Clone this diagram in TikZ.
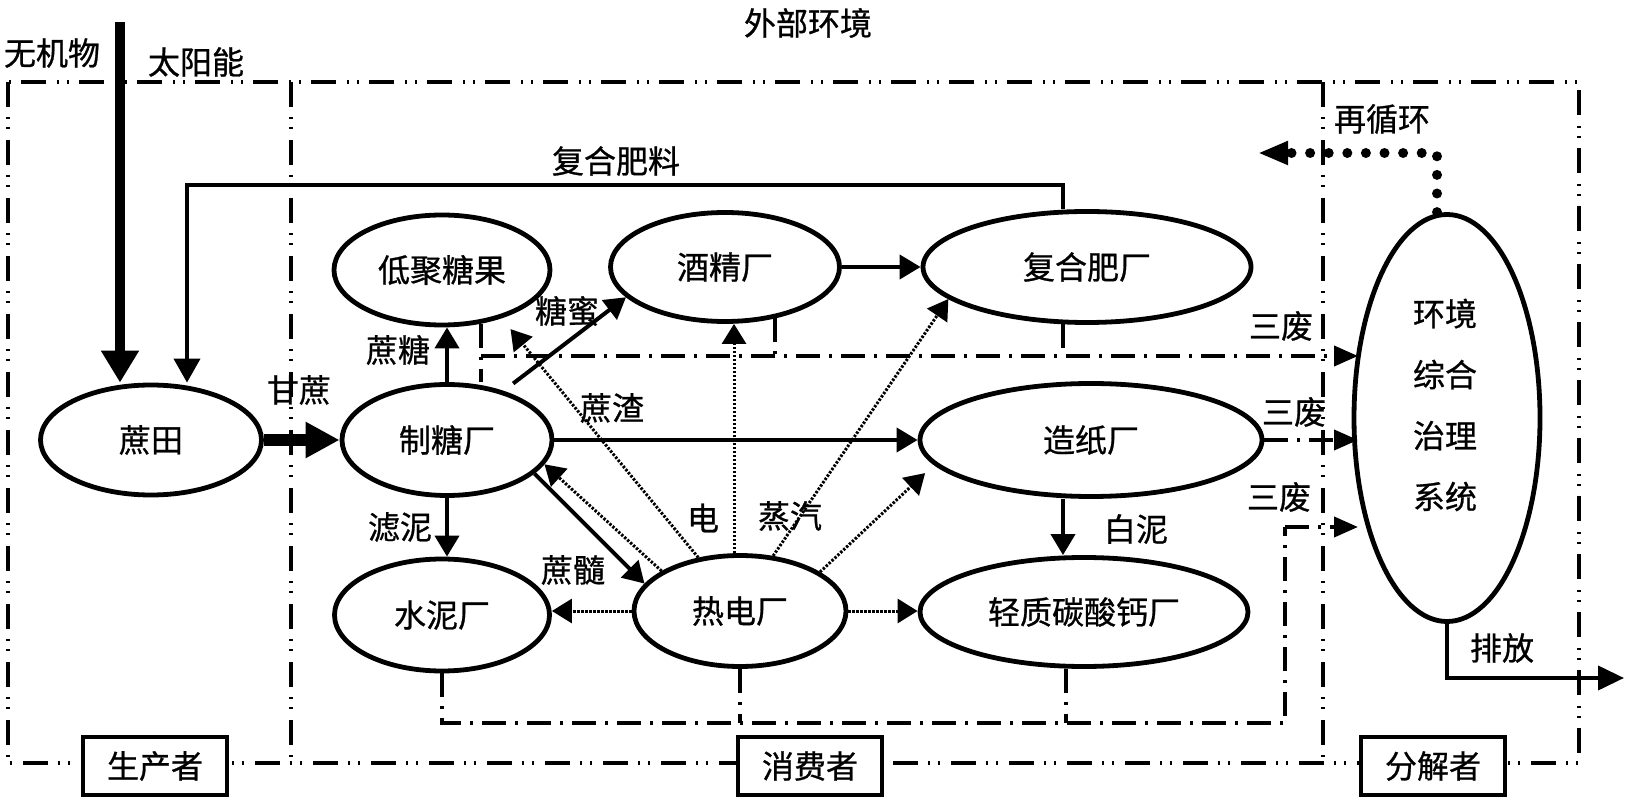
\documentclass[tikz,border=0pt]{standalone}
\usepackage{fontspec}
\setmainfont{Noto Sans CJK SC}[FakeBold=0.8]
\usetikzlibrary{arrows.meta,shapes.geometric}
\tikzset{
  plant/.style={ellipse,draw,line width=2.4pt,inner sep=0pt},
  txt/.style={inner sep=0pt},
  region/.style={line width=2.2pt,dash pattern=on 12.5pt off 5pt on 1pt off 4pt on 1pt off 5.5pt},
  role/.style={draw,fill=white,line width=2pt,minimum width=72pt,minimum height=29pt,inner sep=0pt},
  flow/.style={line width=2pt,-{Triangle[length=10.5pt,width=12pt]}},
  heat/.style={line width=1.5pt,dash pattern=on 1.2pt off 0.8pt,-{Triangle[length=10pt,width=12pt]}},
  waste/.style={line width=2pt,dash pattern=on 12pt off 4.5pt on 1.5pt off 4.5pt},
  wtip/.style={-{Triangle[length=12pt,width=10pt]}},
  recyc/.style={line width=5pt,line cap=round,dash pattern=on 0pt off 9.3pt,-{Triangle[length=15pt,width=11pt]}}
}
\begin{document}
\begin{tikzpicture}[x=0.5pt,y=-0.5pt,font=\fontsize{16pt}{19pt}\selectfont]
\useasboundingbox (0,0) rectangle (1626,801);
\draw[region] (8,82) rectangle (1579,763);
\draw[region] (291,82) -- (291,763);
\draw[region] (1323,82) -- (1323,763);
\node[role] (prod) at (155,766) {生产者};
\node[role] (cons) at (810,766) {消费者};
\node[role] (deco) at (1433,766) {分解者};
\node[txt] (outside) at (808,23) {外部环境};
\node[plant,minimum width=110.5pt,minimum height=55pt] (zt) at (151,440) {蔗田};
\node[plant,minimum width=105pt,minimum height=55.5pt] (zth) at (447,440) {制糖厂};
\node[plant,minimum width=108pt,minimum height=55pt] (dj) at (442,270) {低聚糖果};
\node[plant,minimum width=114.5pt,minimum height=54.5pt] (jj) at (725,267) {酒精厂};
\node[plant,minimum width=164pt,minimum height=55.5pt] (fhf) at (1087,267) {复合肥厂};
\node[plant,minimum width=171pt,minimum height=56.5pt] (zz) at (1091,440) {造纸厂};
\node[plant,minimum width=164pt,minimum height=54.5pt] (qz) at (1084,612) {轻质碳酸钙厂};
\node[plant,minimum width=107.5pt,minimum height=56pt] (sn) at (442,615) {水泥厂};
\node[plant,minimum width=106pt,minimum height=55.5pt] (rd) at (740,611) {热电厂};
\node[plant,minimum width=93pt,minimum height=203.5pt] (env) at (1447,418) {};
\node[txt,align=center,font=\fontsize{16pt}{30.5pt}\selectfont] (envtxt) at (1445,405) {环境\\综合\\治理\\系统};
\coordinate (sun) at (120,22);
\coordinate (fbend) at (187,185);
\coordinate (rc) at (1258,153);
\coordinate (out) at (1624,678);
\coordinate (wup) at (1358,356);
\coordinate (wlow) at (1358,527);
\coordinate (wcnr) at (1285,723);
\draw[line width=5pt,-{Triangle[length=16pt,width=18pt]}] (sun) -- (sun |- zt.north);
\node[txt] (inorg) at (52,53) {无机物};
\node[txt] (solar) at (196,62) {太阳能};
\draw[flow,-{Triangle[length=12pt,width=13pt]}] ([xshift=-12pt]fhf.north) |- (fbend) -- (fbend |- zt.north);
\node[txt] (lfert) at (616,161) {复合肥料};
\draw[line width=6pt,-{Triangle[length=17pt,width=17pt]}] (zt.east) -- (zth.west);
\node[txt] (lcane) at (299,390) {甘蔗};
\draw[flow] (zth.north) -- (zth.north |- dj.south);
\node[txt] (lsugar) at (398,350) {蔗糖};
\draw[flow,shorten <=6pt] (zth.41) -- (jj.197);
\node[txt] (lmol) at (567,311) {糖蜜};
\draw[flow] (zth.east) -- (zth.east -| zz.west);
\node[txt] (lbag) at (612,408) {蔗渣};
\draw[flow] (zth.south) -- (zth.south |- sn.north);
\node[txt] (lmud) at (400,527) {滤泥};
\draw[flow] (zth.-21) -- (rd.164);
\node[txt] (lpith) at (573,570) {蔗髓};
\draw[flow] (jj.east) -- (fhf.west);
\draw[flow] ([xshift=-14pt]zz.south) -- ([xshift=-14pt]zz.south |- qz.north);
\node[txt] (lwhite) at (1136,529) {白泥};
\draw[heat] (rd.153) -- (zth.-14);
\draw[heat,shorten >=7pt] (rd.128) -- (dj.-39);
\draw[heat] ([xshift=-3pt]rd.north) -- ([xshift=-3pt]rd.north |- jj.south);
\draw[heat] (rd.59) -- (fhf.193);
\draw[heat,shorten >=6pt] (rd.26) -- (zz.189);
\draw[heat] (rd.west) -- (rd.west -| sn.east);
\draw[heat] (rd.east) -- (rd.east -| qz.west);
\node[txt] (lelec) at (703,518) {电};
\node[txt] (lsteam) at (790,516) {蒸汽};
\draw[waste] (dj.-54) -- (dj.-54 |- zth.north);
\draw[waste] (jj.-46) -- (jj.-46 |- wup);
\draw[waste] (fhf.247) -- (fhf.247 |- wup);
\draw[waste,wtip] (dj.-54 |- wup) -- (wup);
\node[txt] (lw1) at (1281,326) {三废};
\draw[waste,wtip] (zz.east) -- (zz.east -| wup);
\node[txt] (lw2) at (1294,412) {三废};
\draw[waste] (sn.south) |- (wcnr) -- (wcnr |- wlow);
\draw[waste] (rd.south) -- (rd.south |- wcnr);
\draw[waste] ([xshift=-9pt]qz.south) -- ([xshift=-9pt]qz.south |- wcnr);
\draw[waste,wtip] (wcnr |- wlow) -- (wlow);
\node[txt] (lw3) at (1279,497) {三废};
\draw[recyc] ([xshift=-5pt]env.north) |- (rc);
\node[txt] (lrec) at (1382,119) {再循环};
\draw[line width=2pt,-{Triangle[length=13pt,width=12pt]}] (env.south) |- (out);
\node[txt] (lout) at (1502,648) {排放};
\end{tikzpicture}
\end{document}
